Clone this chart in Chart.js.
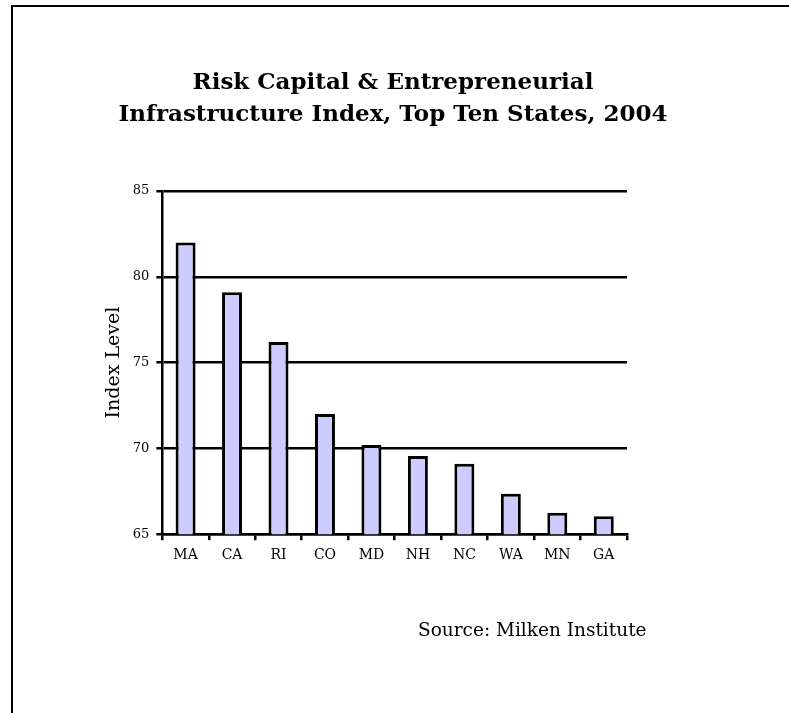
<!DOCTYPE html>
<html>
<head>
<meta charset="utf-8">
<script src="https://cdn.jsdelivr.net/npm/chart.js@4.4.1/dist/chart.umd.min.js"></script>
<style>
  html, body { margin: 0; padding: 0; background: #fff; }
  #page { position: relative; width: 789px; height: 713px; overflow: hidden; }
  #frame {
    position: absolute; left: 11px; top: 5px; width: 800px; height: 720px;
    border-top: 2px solid #000; border-left: 2px solid #000;
  }
  #title {
    position: absolute; left: 0; top: 65px; width: 786px; text-align: center;
    font-family: "DejaVu Serif", serif; font-weight: bold; font-size: 23px; line-height: 32px;
  }
  #source {
    position: absolute; left: 418px; top: 619px;
    font-family: "DejaVu Serif", serif; font-size: 18.5px; line-height: 22px;
  }
  #chart { position: absolute; left: 0; top: 0; }
</style>
</head>
<body>
<div id="page">
  <div id="frame"></div>
  <canvas id="chart" width="789" height="713"></canvas>
  <div id="title">Risk Capital &amp; Entrepreneurial<br>Infrastructure Index, Top Ten States, 2004</div>
  <div id="source">Source: Milken Institute</div>
</div>
<script>
  var states = ["MA", "CA", "RI", "CO", "MD", "NH", "NC", "WA", "MN", "GA"];
  var indexLevels = [82.0, 79.1, 76.2, 72.0, 70.2, 69.55, 69.1, 67.35, 66.25, 66.05];
  var yMin = 65;
  var yMax = 85;
  var yStep = 5;

  var serif = "DejaVu Serif";

  new Chart(document.getElementById("chart"), {
    type: "bar",
    data: {
      labels: states,
      datasets: [
        {
          label: "Index Level",
          data: indexLevels,
          backgroundColor: "#CCCCFF",
          borderColor: "#000000",
          borderWidth: 3,
          borderSkipped: "bottom",
          categoryPercentage: 1,
          barPercentage: 0.43,
        },
      ],
    },
    options: {
      responsive: false,
      animation: false,
      layout: {
        padding: { top: 191, right: 162, bottom: 142, left: 103 },
      },
      plugins: {
        legend: { display: false },
        tooltip: { enabled: false },
      },
      scales: {
        x: {
          grid: {
            drawOnChartArea: false,
            drawTicks: true,
            tickLength: 6,
            color: "#000",
            lineWidth: 2.5,
          },
          border: { display: true, color: "#000", width: 2.5 },
          ticks: {
            color: "#000",
            padding: 7,
            font: { family: serif, size: 14 },
          },
        },
        y: {
          min: yMin,
          max: yMax,
          ticks: {
            stepSize: yStep,
            color: "#000",
            padding: 7,
            font: { family: serif, size: 13 },
          },
          grid: {
            color: "#000",
            lineWidth: 2.5,
            tickLength: 6,
          },
          border: { display: true, color: "#000", width: 2.5 },
          title: {
            display: true,
            text: "Index Level",
            color: "#000",
            font: { family: serif, size: 19 },
            padding: { top: 0, bottom: 0 },
          },
        },
      },
    },
  });
</script>
</body>
</html>
